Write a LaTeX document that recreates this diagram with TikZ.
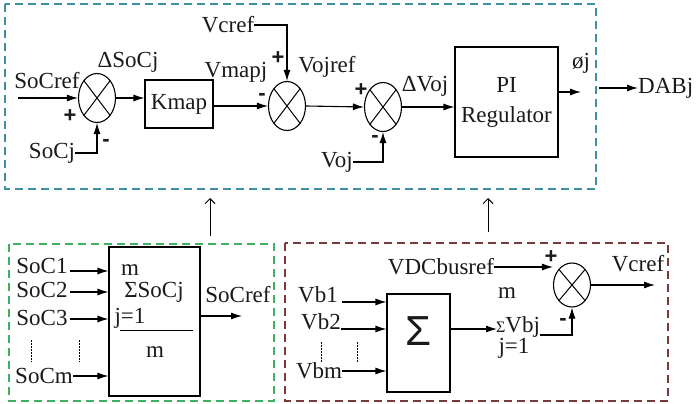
\documentclass[tikz,border=0pt]{standalone}
\usepackage{fontspec}
\setmainfont{Liberation Serif}
\newfontfamily\signfont{Liberation Sans}
\usetikzlibrary{arrows.meta,shapes.geometric}
\definecolor{loop-teal}{HTML}{3F8FA3}
\definecolor{avg-green}{HTML}{3DB061}
\definecolor{bus-brown}{HTML}{7A3A3A}
\definecolor{jet}{HTML}{1A1A1A}
\tikzset{
  blk/.style={draw, line width=1.1pt, inner sep=0pt},
  sumj/.style={ellipse, draw, line width=1.1pt, inner sep=0pt,
    minimum width=37pt, minimum height=49pt,
    path picture={\draw[line width=1pt]
      (path picture bounding box.north west) -- (path picture bounding box.south east)
      (path picture bounding box.north east) -- (path picture bounding box.south west);}},
  sgn/.style={font=\signfont\bfseries\fontsize{22}{22}\selectfont},
  sig/.style={-{Latex[length=11pt,width=7pt]}, line width=1.1pt},
  link/.style={-{Straight Barb[length=5pt,width=10pt]}, line width=1pt},
  frame/.style={line width=1.3pt, dash pattern=on 8pt off 5pt},
  dots/.style={line width=1pt, dash pattern=on 1.5pt off 1.5pt}
}
\begin{document}
\begin{tikzpicture}[x=1pt, y=-1pt, line cap=butt,
  every node/.style={font=\fontsize{23}{26}\selectfont, inner sep=0pt, text=jet}]
  \useasboundingbox (0,0) rectangle (697,404);

  % SoC balancing loop
  \draw[frame, loop-teal] (5,4) rectangle (596,189);
  \node[sumj] (s1) at (97,98) {};
  \node (socref) at (47,81) {SoCref};
  \coordinate (socin) at (18,98);
  \draw[sig] (socin) -- (s1.west);
  \node[sgn] (p1) at (70,116) {+};
  \node (socj) at (52,153) {SoCj};
  \draw[sig] (socj.east) -| (s1.south);
  \node[sgn] (m1) at (106,143) {-};
  \node (dsoc) at (128,62) {ΔSoCj};
  \node[blk, minimum width=68pt, minimum height=48pt] (kmap) at (179,104) {Kmap};
  \draw[sig] (s1.east) -- (s1.east -| kmap.west);
  \node (vmapj) at (236,72) {Vmapj};
  \node[sumj] (s2) at (287,106) {};
  \draw[sig] (kmap.east |- s2.west) -- (s2.west);
  \node[sgn] (m2) at (262,97) {-};
  \node (vcref) at (228,25) {Vcref};
  \draw[sig] (vcref.east) -| (s2.north);
  \node[sgn] (p2) at (278,58) {+};
  \node (vojref) at (327,67) {Vojref};
  \node[sumj] (s3) at (383,107) {};
  \draw[sig] (s2.east) -- (s3.west);
  \node[sgn] (p3) at (361,90) {+};
  \node[sgn] (m3) at (375,139) {-};
  \node (voj) at (337,162) {Voj};
  \draw[sig] (voj.east) -| (s3.south);
  \node (dvoj) at (425,86) {ΔVoj};
  \node[blk, minimum width=103pt, minimum height=110pt, align=center,
    font=\fontsize{23}{30}\selectfont] (pi) at (506.5,102) {PI\\Regulator};
  \draw[sig] (s3.east) -- (s3.east -| pi.west);
  \coordinate (phiout) at (581,92);
  \draw[sig] (pi.east |- phiout) -- (phiout);
  \node (phi) at (581,63) {øj};
  \node[anchor=west] (dab) at (638,88) {DABj};
  \coordinate (dabin) at (599,88);
  \draw[sig] (dabin) -- (dab.west);

  % links up to the loop
  \coordinate (lk1) at (210,236);
  \coordinate (lk1top) at (210,198);
  \draw[link] (lk1) -- (lk1top);
  \coordinate (lk2) at (488,232);
  \coordinate (lk2top) at (488,198);
  \draw[link] (lk2) -- (lk2top);

  % SoC average
  \draw[frame, avg-green] (9,244) rectangle (274,401);
  \node[blk, minimum width=91pt, minimum height=149pt] (avg) at (154.5,321.5) {};
  \foreach \i/\y/\a in {1/266/271,2/290/292,3/318/319}{
    \node (soc\i) at (42,\y) {SoC\i};
    \coordinate (soc\i in) at (70,\a);
    \draw[sig] (soc\i in) -- (soc\i in -| avg.west);
  }
  \node (socm) at (44,376) {SoCm};
  \draw[sig] (socm.east) -- (socm.east -| avg.west);
  \draw[dots] (31,340) -- (31,362) (79,340) -- (79,362);
  \node (avgm) at (130,270) {m};
  \node (avgsum) at (154,292) {ΣSoCj};
  \node (avgj) at (130,318) {j=1};
  \draw[line width=1pt] (120,330) -- (193,330);
  \node (avgden) at (155,352) {m};
  \node (socout) at (238,295) {SoCref};
  \coordinate (socend) at (242,316);
  \draw[sig] (avg.east |- socend) -- (socend);

  % DC bus reference
  \draw[frame, bus-brown] (285,243) rectangle (668,401);
  \node[blk, minimum width=63pt, minimum height=98pt] (vsum) at (418.5,343) {};
  \node[font=\signfont\fontsize{42}{42}\selectfont] (bigsig) at (418,331) {Σ};
  \node (vb1) at (318,295) {Vb1};
  \node (vb2) at (321,322) {Vb2};
  \node (vbm) at (319,371) {Vbm};
  \coordinate (vb1in) at (342,302);
  \coordinate (vb2in) at (341,329);
  \coordinate (vbmin) at (342,371);
  \foreach \c in {vb1in,vb2in,vbmin}
    \draw[sig] (\c) -- (\c -| vsum.west);
  \draw[dots] (321,342) -- (321,362) (357,342) -- (357,362);
  \coordinate (vbout) at (497,329);
  \draw[sig] (vsum.east |- vbout) -- (vbout);
  \node (bm) at (507,293) {m};
  \node (bsum) at (518,327) {{\fontsize{16}{16}\selectfont Σ}Vbj};
  \node (bj) at (514,348) {j=1};
  \node[sumj, minimum height=44pt] (s4) at (572,285) {};
  \node (vdc) at (441,267) {VDCbusref};
  \draw[sig] (vdc.east) -- (vdc.east -| s4.west);
  \node[sgn] (p4) at (551,257) {+};
  \coordinate (vbtap) at (540,335);
  \draw[sig] (vbtap) -| (s4.south);
  \node[sgn] (m4) at (563,322) {-};
  \coordinate (vcout) at (655,285);
  \draw[sig] (s4.east) -- (vcout);
  \node (vcref2) at (638,264) {Vcref};
\end{tikzpicture}
\end{document}
